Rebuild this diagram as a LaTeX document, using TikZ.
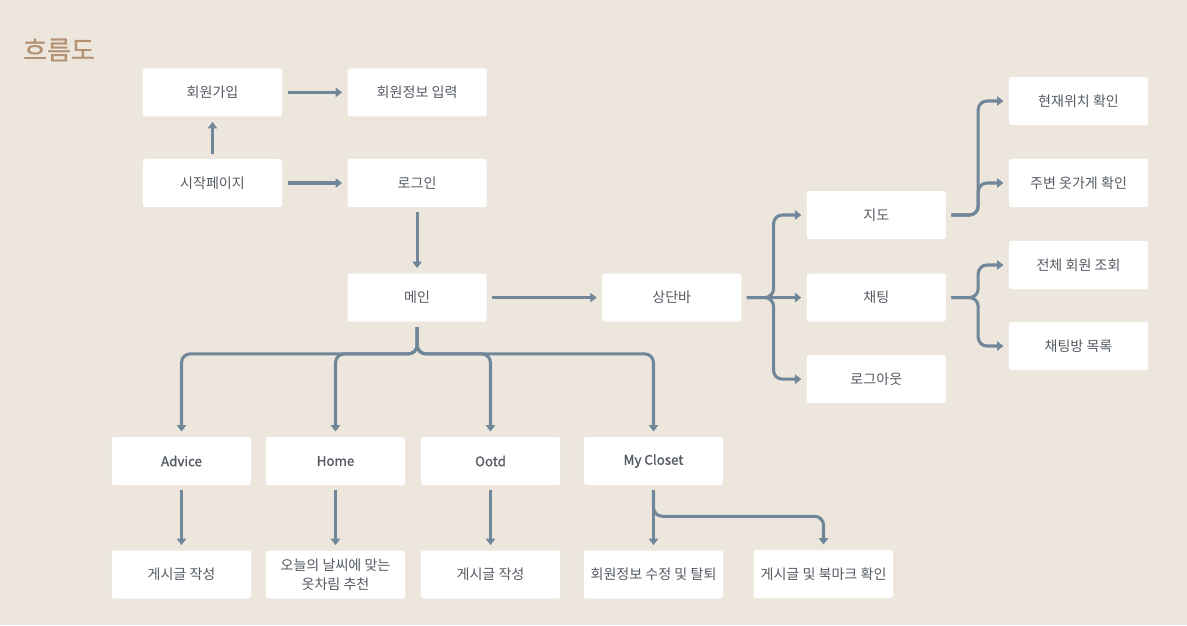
\documentclass[tikz,border=0pt]{standalone}
\usepackage{fontspec}
\setmainfont{Noto Sans CJK KR}
\newfontfamily\enfont[FakeBold=1.2]{Noto Sans CJK KR}
\newfontfamily\titlefont[FakeBold=0.6]{Noto Sans CJK KR}
\usetikzlibrary{positioning,arrows.meta}
\definecolor{paper}{HTML}{ECE6DD}
\definecolor{linegray}{HTML}{70879A}
\definecolor{textgray}{HTML}{555B63}
\definecolor{titlebrown}{HTML}{B39274}

\begin{document}
\begin{tikzpicture}[
		x=0.025cm, y=-0.025cm,
		node distance=1.625cm,
		box/.style={fill=white, rounded corners=0.6mm, align=center, minimum width=3.475cm, minimum height=1.2cm, text=textgray, font=\fontsize{10}{14}\selectfont},
		en/.style={font=\fontsize{9.5}{12}\selectfont\enfont},
		arr/.style={-{Triangle[length=1.6mm, width=2.3mm]}, line width=2.2pt, draw=linegray, shorten <=1.3mm, shorten >=1.3mm},
		fork/.style={arr, rounded corners=2.2mm}
		]
		\fill[paper] (0,0) rectangle (1187,625);
		\useasboundingbox (0,0) rectangle (1187,625);
		\node[text=titlebrown, font=\fontsize{18.5}{20}\selectfont\titlefont] (title) at (59,50) {흐름도};
		
		\node[box] (start) at (212.5,183) {시작페이지};
		\node[box, right=of start] (login) {로그인};
		\node[box, above=1.05cm of start] (join) {회원가입};
		\node[box, right=of join] (joininfo) {회원정보 입력};
		\node[box, below=1.65cm of login] (main) {메인};
		\node[box, right=2.875cm of main] (topbar) {상단바};
		\node[box, right=of topbar] (chat) {채팅};
		\node[box, above=0.85cm of chat] (map) {지도};
		\node[box, below=0.825cm of chat] (logout) {로그아웃};
		
		\node[box] (curloc) at (1078.5,101) {현재위치 확인};
		\node[box] (shops) at (1078.5,183) {주변 옷가게 확인};
		\node[box] (members) at (1078.5,265) {전체 회원 조회};
		\node[box] (rooms) at (1078.5,346) {채팅방 목록};
		
		\node[box, en] (advice) at (181.5,461) {Advice};
		\node[box, en] (home) at (335.5,461) {Home};
		\node[box, en] (ootd) at (490.5,461) {Ootd};
		\node[box, en] (closet) at (653.5,461) {My Closet};
		
		\node[box, below=of advice] (advpost) {게시글 작성};
		\node[box, below=of home] (weather) {오늘의 날씨에 맞는\\옷차림 추천};
		\node[box, below=of ootd] (ootdpost) {게시글 작성};
		\node[box, below=of closet] (edit) {회원정보 수정 및 탈퇴};
		\node[box] (bookmark) at (823.5,574) {게시글 및 북마크 확인};
		
		% top part
		\draw[arr] (start) -- (join);
		\draw[arr] (join) -- (joininfo);
		\draw[arr] (start) -- (login);
		\draw[arr] (login) -- (main);
		\draw[arr] (main) -- (topbar);
		
		% menu branches
		\foreach \t in {advice,home,ootd,closet}
			\draw[fork] (main.south) -- ++(0,32) -| (\t.north);
		\draw[arr] (advice) -- (advpost);
		\draw[arr] (home) -- (weather);
		\draw[arr] (ootd) -- (ootdpost);
		\draw[arr] (closet) -- (edit);
		\draw[fork] (closet.south) -- ++(0,31) -| (bookmark.north);
		
		% top bar branches
		\draw[arr] (topbar) -- (chat);
		\foreach \t in {map,logout}
			\draw[fork] (topbar.east) -- ++(32,0) |- (\t.west);
		\foreach \t in {curloc,shops}
			\draw[fork] (map.east) -- ++(32,0) |- (\t.west);
		\foreach \t in {members,rooms}
			\draw[fork] (chat.east) -- ++(32,0) |- (\t.west);
	\end{tikzpicture}
\end{document}
